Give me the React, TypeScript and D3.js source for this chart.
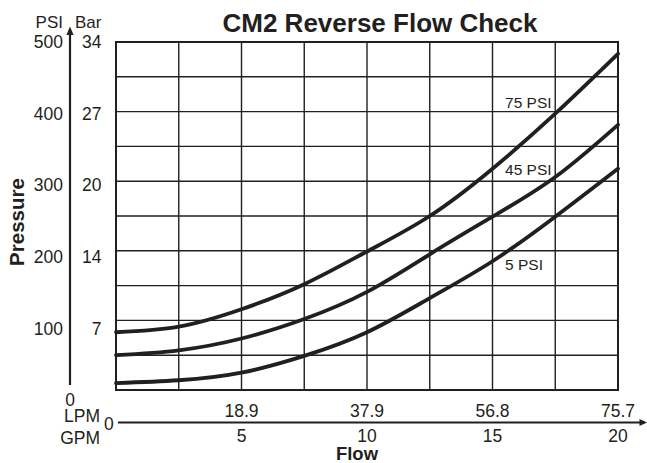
import React from "react";
import * as d3 from "d3";

const gpm = [0, 2.5, 5, 7.5, 10, 12.5, 15, 17.5, 20];
// pressure drop (PSI) for each spring
const psi75 = [83, 91, 116, 152, 199, 250, 318, 397, 483];
const psi45 = [50, 57, 74, 102, 141, 195, 249, 306, 381];
const psi5 = [10, 14, 25, 49, 83, 132, 185, 249, 318];
const seriesNames = ["75 PSI", "45 PSI", "5 PSI"];

const psiTicks = [100, 200, 300, 400, 500];
const barTicks = ["7", "14", "20", "27", "34"];
const gpmTicks = [5, 10, 15, 20];
const lpmTicks = ["18.9", "37.9", "56.8", "75.7"];

const W = 647, H = 463;
const font = "'Liberation Sans', Arial, Helvetica, sans-serif";
const ink = "#231f20";

export default function App() {
  // plot box
  const margin = { top: 42, right: 29, bottom: 73, left: 116 };
  const x = d3.scaleLinear().domain([0, 20]).range([margin.left, W - margin.right]);
  const y = d3.scaleLinear().domain([0, 500]).range([H - margin.bottom, margin.top]);
  // the printed labels drift a bit from the grid, so they get their own scale
  const yLab = d3.scaleLinear().domain([0, 500]).range([400, 42]);

  const line = d3.line<number>()
    .x((d, i) => x(gpm[i]))
    .y((d) => y(d))
    .curve(d3.curveNatural);

  const series = [psi75, psi45, psi5];
  const labelAt = [405, 309, 172]; // PSI height of each curve label

  const vGrid = d3.range(2.5, 20, 2.5);
  const hGrid = d3.range(50, 500, 50);

  const axisX = 70;
  const axisY = 422.5;

  return (
    <svg width={W} height={H} style={{ position: "absolute", left: 0, top: 0, background: "#fff" }}
      fontFamily={font} fill={ink}>
      {/* grid */}
      <g stroke={ink} strokeWidth={1.4}>
        {vGrid.map((g) => (
          <line key={"v" + g} x1={x(g)} x2={x(g)} y1={y(0)} y2={y(500)} />
        ))}
        {hGrid.map((p) => (
          <line key={"h" + p} x1={x(0)} x2={x(20)} y1={y(p)} y2={y(p)} />
        ))}
      </g>
      <rect x={x(0)} y={y(500)} width={x(20) - x(0)} height={y(0) - y(500)}
        fill="none" stroke={ink} strokeWidth={2} />

      {/* curves */}
      {series.map((s, i) => (
        <path key={i} d={line(s) || ""} fill="none" stroke={ink} strokeWidth={3.8}
          strokeLinecap="round" />
      ))}
      {seriesNames.map((n, i) => (
        <text key={n} x={x(15.5)} y={y(labelAt[i])} fontSize={15.5}>{n}</text>
      ))}

      {/* y axis */}
      <line x1={axisX} x2={axisX} y1={385} y2={33} stroke={ink} strokeWidth={2.2} />
      <path d={`M${axisX},26.5L${axisX - 3.6},35L${axisX + 3.6},35Z`} />
      <text x={63} y={27.5} fontSize={17} textAnchor="end">PSI</text>
      <text x={75} y={27.5} fontSize={17}>Bar</text>
      {psiTicks.map((p, i) => (
        <g key={p}>
          <text x={63} y={yLab(p)} dy="0.35em" fontSize={17.5} textAnchor="end">{p}</text>
          <text x={101.5} y={yLab(p)} dy="0.35em" fontSize={17.5} textAnchor="end">{barTicks[i]}</text>
        </g>
      ))}
      <text x={axisX} y={yLab(0)} dy="0.35em" fontSize={17.5} textAnchor="middle">0</text>
      <text transform="translate(24,222) rotate(-90)" fontSize={20.5} fontWeight="bold"
        textAnchor="middle">Pressure</text>

      {/* x axis */}
      <line x1={118} x2={641} y1={axisY} y2={axisY} stroke={ink} strokeWidth={2.2} />
      <path d={`M647,${axisY}L639.5,${axisY - 3.6}L639.5,${axisY + 3.6}Z`} />
      <text x={100} y={421.5} fontSize={17.5} textAnchor="end">LPM</text>
      <text x={100} y={444} fontSize={17.5} textAnchor="end">GPM</text>
      <text x={104} y={430} fontSize={17.5}>0</text>
      {gpmTicks.map((g, i) => (
        <g key={g}>
          <text x={x(g)} y={416.5} fontSize={17.5} textAnchor="middle">{lpmTicks[i]}</text>
          <text x={x(g)} y={442} fontSize={17.5} textAnchor="middle">{g}</text>
        </g>
      ))}
      <text x={357} y={460} fontSize={18.5} fontWeight="bold" textAnchor="middle">Flow</text>

      {/* title */}
      <text x={380} y={31.5} fontSize={26} fontWeight="bold" textAnchor="middle">CM2 Reverse Flow Check</text>
    </svg>
  );
}
